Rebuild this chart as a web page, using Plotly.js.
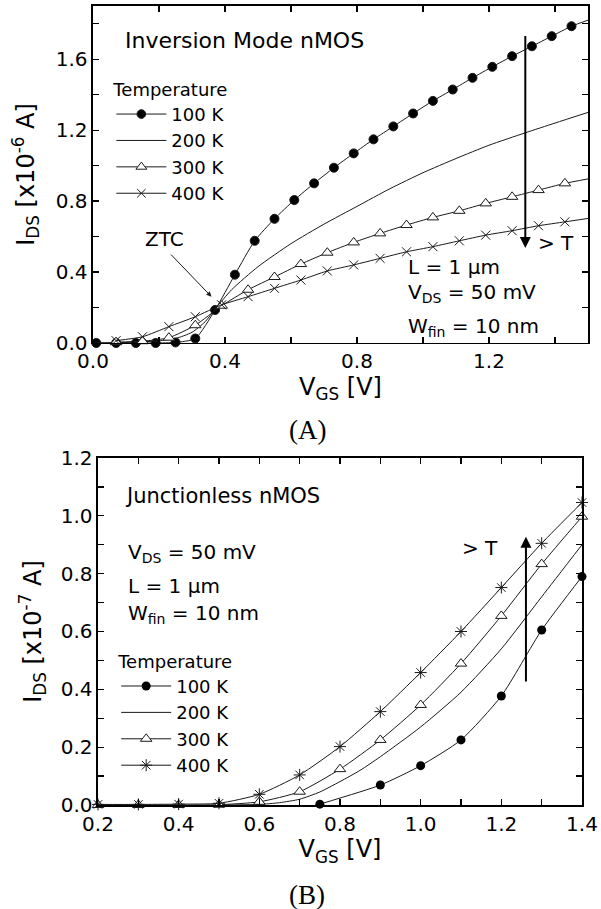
<!DOCTYPE html>
<html>
<head>
<meta charset="utf-8">
<script src="https://cdn.plot.ly/plotly-3.0.1.min.js"></script>
<style>html,body{margin:0;padding:0;background:#fff;}#chart{width:601px;height:909px;}</style>
</head>
<body>
<div id="chart"></div>
<script>
// ---------- (A) Inversion Mode nMOS : VGS [V] vs IDS [x1e-6 A] ----------
const invV100 = [0.01,0.07,0.13,0.19,0.25,0.31,0.37,0.43,0.49,0.55,0.61,0.67,0.73,0.79,0.85,0.91,0.97,1.03,1.09,1.15,1.21,1.27,1.33,1.39,1.45,1.5];
const invI100 = [0,0,0,0,0.003,0.025,0.186,0.385,0.576,0.70,0.806,0.90,0.988,1.069,1.148,1.221,1.294,1.365,1.429,1.495,1.557,1.617,1.673,1.730,1.786,1.82];
const invV200 = [0.0,0.1,0.2,0.25,0.3,0.34,0.37,0.42,0.5,0.6,0.7,0.8,0.9,1.0,1.1,1.2,1.31,1.4,1.5];
const invI200 = [0,0.003,0.012,0.025,0.06,0.12,0.19,0.30,0.43,0.56,0.67,0.77,0.87,0.96,1.04,1.115,1.185,1.24,1.30];
const invV300 = [0.07,0.15,0.23,0.31,0.39,0.47,0.55,0.63,0.71,0.79,0.87,0.95,1.03,1.11,1.19,1.27,1.35,1.43,1.5];
const invI300 = [0.005,0.01,0.03,0.10,0.21,0.30,0.372,0.445,0.509,0.567,0.618,0.665,0.708,0.745,0.787,0.824,0.862,0.90,0.925];
const invV400 = [0.07,0.15,0.23,0.31,0.39,0.47,0.55,0.63,0.71,0.79,0.87,0.95,1.03,1.11,1.19,1.27,1.35,1.43,1.5];
const invI400 = [0.013,0.035,0.092,0.148,0.215,0.261,0.308,0.355,0.406,0.44,0.477,0.514,0.543,0.576,0.608,0.633,0.661,0.683,0.702];

// ---------- (B) Junctionless nMOS : VGS [V] vs IDS [x1e-7 A] ----------
const jlV100 = [0.75,0.9,1.0,1.1,1.2,1.3,1.4];
const jlI100 = [0.003,0.069,0.136,0.225,0.377,0.605,0.79];
const jlV200 = [0.5,0.6,0.65,0.7,0.75,0.8,0.85,0.9,1.0,1.1,1.2,1.3,1.4];
const jlI200 = [0,0.002,0.008,0.02,0.045,0.081,0.12,0.167,0.27,0.39,0.54,0.72,0.90];
const jlV300 = [0.2,0.3,0.4,0.5,0.6,0.7,0.8,0.9,1.0,1.1,1.2,1.3,1.4];
const jlI300 = [0,0,0,0.001,0.011,0.046,0.124,0.225,0.346,0.489,0.654,0.833,0.997];
const jlV400 = [0.2,0.3,0.4,0.5,0.6,0.7,0.8,0.9,1.0,1.1,1.2,1.3,1.4];
const jlI400 = [0.002,0.002,0.003,0.006,0.037,0.104,0.202,0.323,0.458,0.60,0.752,0.905,1.046];

const seriesNames = ['100 K','200 K','300 K','400 K'];

// tick labels
const topXTicks = [0,0.2,0.4,0.6,0.8,1.0,1.2,1.4];
const topXLabels = ['0.0','','0.4','','0.8','','1.2',''];
const topYTicks = [0,0.2,0.4,0.6,0.8,1.0,1.2,1.4,1.6,1.8];
const topYLabels = ['0.0','','0.4','','0.8','','1.2','','1.6',''];
const botXTicks = [0.2,0.3,0.4,0.5,0.6,0.7,0.8,0.9,1.0,1.1,1.2,1.3,1.4];
const botXLabels = ['0.2','','0.4','','0.6','','0.8','','1.0','','1.2','','1.4'];
const botYTicks = [0,0.1,0.2,0.3,0.4,0.5,0.6,0.7,0.8,0.9,1.0,1.1,1.2];
const botYLabels = ['0.0','','0.2','','0.4','','0.6','','0.8','','1.0','','1.2'];

const FONT = 'DejaVu Sans, Arial, sans-serif';
const INK = '#1a1a1a';
// last point of each top series is only the line end at the frame edge
const edgeSizes = (arr, s) => arr.map((_, i) => i === arr.length - 1 ? 0 : s);

const lineStyle = {color: INK, width: 1, shape: 'spline', smoothing: 0.6};

const traces = [
  {x: invV100, y: invI100, name: seriesNames[0], mode: 'lines+markers', xaxis: 'x', yaxis: 'y', legend: 'legend',
   line: lineStyle, marker: {symbol: 'circle', size: edgeSizes(invV100, 9), color: '#000', opacity: 1}, cliponaxis: false},
  {x: invV200, y: invI200, name: seriesNames[1], mode: 'lines', xaxis: 'x', yaxis: 'y', legend: 'legend',
   line: lineStyle},
  {x: invV300, y: invI300, name: seriesNames[2], mode: 'lines+markers', xaxis: 'x', yaxis: 'y', legend: 'legend',
   line: lineStyle, marker: {symbol: 'triangle-up', size: edgeSizes(invV300, 10), color: '#fff', opacity: 1, line: {color: INK, width: 1}}, cliponaxis: false},
  {x: invV400, y: invI400, name: seriesNames[3], mode: 'lines+markers', xaxis: 'x', yaxis: 'y', legend: 'legend',
   line: lineStyle, marker: {symbol: 'x-thin-open', size: edgeSizes(invV400, 9), color: INK, opacity: 1, line: {color: INK, width: 1}}, cliponaxis: false},

  {x: jlV100, y: jlI100, name: seriesNames[0], mode: 'lines+markers', xaxis: 'x2', yaxis: 'y2', legend: 'legend2',
   line: lineStyle, marker: {symbol: 'circle', size: 9, color: '#000', opacity: 1}, cliponaxis: false},
  {x: jlV200, y: jlI200, name: seriesNames[1], mode: 'lines', xaxis: 'x2', yaxis: 'y2', legend: 'legend2',
   line: lineStyle},
  {x: jlV300, y: jlI300, name: seriesNames[2], mode: 'lines+markers', xaxis: 'x2', yaxis: 'y2', legend: 'legend2',
   line: lineStyle, marker: {symbol: 'triangle-up', size: 10, color: '#fff', opacity: 1, line: {color: INK, width: 1}}, cliponaxis: false},
  {x: jlV400, y: jlI400, name: seriesNames[3], mode: 'lines+markers', xaxis: 'x2', yaxis: 'y2', legend: 'legend2',
   line: lineStyle, marker: {symbol: 'asterisk-open', size: 10, color: INK, opacity: 1, line: {color: INK, width: 1}}, cliponaxis: false}
];

const axisBase = {
  showline: true, linecolor: '#000', linewidth: 1.5, mirror: 'ticks',
  ticks: 'inside', ticklen: 6, tickwidth: 1.2, tickcolor: '#000',
  showgrid: false, zeroline: false, tickmode: 'array',
  tickfont: {family: FONT, size: 20, color: '#000'}, fixedrange: true
};
const titleFont = {family: FONT, size: 24, color: '#000'};
const txtFont = {family: FONT, size: 20, color: '#000'};
const legFont = {family: FONT, size: 18, color: '#000'};

const layout = {
  width: 601, height: 909,
  margin: {l: 0, r: 0, t: 0, b: 0},
  paper_bgcolor: '#fff', plot_bgcolor: '#fff',
  showlegend: true,
  xaxis: Object.assign({}, axisBase, {
    domain: [0.1547, 0.9784], range: [0, 1.5], anchor: 'y',
    tickvals: topXTicks, ticktext: topXLabels,
    title: {text: 'V<sub>GS</sub> [V]', font: titleFont, standoff: 4}
  }),
  yaxis: Object.assign({}, axisBase, {
    domain: [0.6227, 0.9934], range: [0, 1.9], anchor: 'x',
    tickvals: topYTicks, ticktext: topYLabels,
    title: {text: 'I<sub>DS</sub> [x10<sup>-6</sup> A]', font: titleFont, standoff: 14}
  }),
  xaxis2: Object.assign({}, axisBase, {
    domain: [0.16306, 0.96839], range: [0.2, 1.4], anchor: 'y2',
    tickvals: botXTicks, ticktext: botXLabels,
    title: {text: 'V<sub>GS</sub> [V]', font: titleFont, standoff: 2}
  }),
  yaxis2: Object.assign({}, axisBase, {
    domain: [0.11441, 0.49615], range: [0, 1.2], anchor: 'x2',
    tickvals: botYTicks, ticktext: botYLabels,
    title: {text: 'I<sub>DS</sub> [x10<sup>-7</sup> A]', font: titleFont, standoff: 12}
  }),
  legend: {
    x: 0.1853, y: 0.9203, xanchor: 'left', yanchor: 'top', xref: 'paper', yref: 'paper',
    bgcolor: 'rgba(0,0,0,0)', borderwidth: 0, font: legFont, itemwidth: 50,
    title: {text: 'Temperature', font: legFont}, traceorder: 'normal', tracegroupgap: 0
  },
  legend2: {
    x: 0.1933, y: 0.2911, xanchor: 'left', yanchor: 'top', xref: 'paper', yref: 'paper',
    bgcolor: 'rgba(0,0,0,0)', borderwidth: 0, font: legFont, itemwidth: 50,
    title: {text: 'Temperature', font: legFont}, traceorder: 'normal', tracegroupgap: 0
  },
  annotations: [
    // panel (A)
    {xref: 'x', yref: 'y', x: 0.09, y: 1.703, xanchor: 'left', yanchor: 'middle', showarrow: false,
     text: 'Inversion Mode nMOS', font: {family: FONT, size: 22, color: '#000'}},
    {xref: 'x', yref: 'y', x: 0.947, y: 0.43, xanchor: 'left', yanchor: 'middle', showarrow: false,
     text: 'L = 1 μm', font: txtFont},
    {xref: 'x', yref: 'y', x: 0.947, y: 0.28, xanchor: 'left', yanchor: 'middle', showarrow: false,
     text: 'V<sub>DS</sub> = 50 mV', font: txtFont},
    {xref: 'x', yref: 'y', x: 0.947, y: 0.09, xanchor: 'left', yanchor: 'middle', showarrow: false,
     text: 'W<sub>fin</sub> = 10 nm', font: txtFont},
    {xref: 'x', yref: 'y', x: 0.218, y: 0.585, xanchor: 'center', yanchor: 'middle', showarrow: false,
     text: 'ZTC', font: txtFont},
    {xref: 'x', yref: 'y', x: 1.404, y: 0.565, xanchor: 'center', yanchor: 'middle', showarrow: false,
     text: '> T', font: txtFont},
    {xref: 'x', yref: 'y', x: 0.359, y: 0.261, axref: 'x', ayref: 'y', ax: 0.232, ay: 0.507,
     text: '', showarrow: true, arrowhead: 2, arrowsize: 1, arrowwidth: 1, arrowcolor: INK, standoff: 0},
    {xref: 'x', yref: 'y', x: 1.31, y: 0.535, axref: 'x', ayref: 'y', ax: 1.31, ay: 1.74,
     text: '', showarrow: true, arrowhead: 2, arrowsize: 1.1, arrowwidth: 2, arrowcolor: '#000', standoff: 0},
    // panel (B)
    {xref: 'x2', yref: 'y2', x: 0.262, y: 1.067, xanchor: 'left', yanchor: 'middle', showarrow: false,
     text: 'Junctionless nMOS', font: {family: FONT, size: 21, color: '#000'}},
    {xref: 'x2', yref: 'y2', x: 0.269, y: 0.87, xanchor: 'left', yanchor: 'middle', showarrow: false,
     text: 'V<sub>DS</sub> = 50 mV', font: txtFont},
    {xref: 'x2', yref: 'y2', x: 0.269, y: 0.758, xanchor: 'left', yanchor: 'middle', showarrow: false,
     text: 'L = 1 μm', font: txtFont},
    {xref: 'x2', yref: 'y2', x: 0.269, y: 0.66, xanchor: 'left', yanchor: 'middle', showarrow: false,
     text: 'W<sub>fin</sub> = 10 nm', font: txtFont},
    {xref: 'x2', yref: 'y2', x: 1.147, y: 0.888, xanchor: 'center', yanchor: 'middle', showarrow: false,
     text: '> T', font: txtFont},
    {xref: 'x2', yref: 'y2', x: 1.261, y: 0.928, axref: 'x2', ayref: 'y2', ax: 1.261, ay: 0.422,
     text: '', showarrow: true, arrowhead: 2, arrowsize: 1.1, arrowwidth: 2, arrowcolor: '#000', standoff: 0},
    // panel labels
    {xref: 'paper', yref: 'paper', x: 0.511, y: 0.527, xanchor: 'center', yanchor: 'middle', showarrow: false,
     text: '(A)', font: {family: 'Liberation Serif, Times New Roman, serif', size: 27, color: '#000'}},
    {xref: 'paper', yref: 'paper', x: 0.511, y: 0.0154, xanchor: 'center', yanchor: 'middle', showarrow: false,
     text: '(B)', font: {family: 'Liberation Serif, Times New Roman, serif', size: 27, color: '#000'}}
  ]
};

Plotly.newPlot('chart', traces, layout, {displayModeBar: false, staticPlot: true});
</script>
</body>
</html>
